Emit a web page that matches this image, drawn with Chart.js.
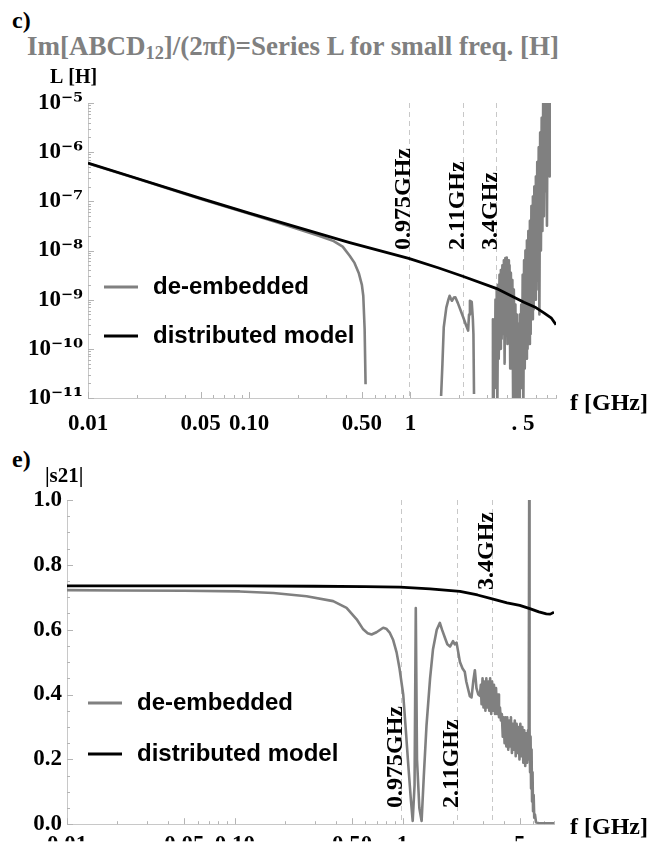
<!DOCTYPE html>
<html><head><meta charset="utf-8">
<script src="https://cdn.jsdelivr.net/npm/chart.js@4.4.1/dist/chart.umd.min.js"></script>
<style>
@font-face{font-family:'SupSerif';src:local('DejaVu Serif Bold'),local('DejaVuSerif-Bold');font-weight:bold;unicode-range:U+2070-209F,U+00B2,U+00B3,U+00B9;}
@font-face{font-family:'SupSerif';src:local('DejaVu Serif Bold'),local('DejaVuSerif-Bold');font-weight:normal;unicode-range:U+2070-209F,U+00B2,U+00B3,U+00B9;}
html,body{margin:0;padding:0;background:#fff;}
body{width:666px;height:843px;position:relative;overflow:hidden;}
canvas{position:absolute;left:0;}
#c1{top:0;}
#c2{top:440px;}
.lbl{position:absolute;font-family:'Liberation Serif','Times New Roman',serif;font-weight:bold;white-space:nowrap;line-height:1;}
.lbl sub{font-size:0.68em;vertical-align:-0.22em;line-height:0;}
</style></head><body>
<div class="lbl" style="left:12px;top:8px;font-size:24px;">c)</div>
<div class="lbl" style="left:27px;top:33px;font-size:27px;color:#808080;">Im[ABCD<sub>12</sub>]/(2πf)=Series L for small freq. [H]</div>
<div class="lbl" style="left:12px;top:447px;font-size:24px;">e)</div>
<canvas id="c1" width="666" height="440"></canvas>
<canvas id="c2" width="666" height="403"></canvas>
<script>
// ---------- data ----------
const xTickVals = [0.01, 0.05, 0.1, 0.5, 1, 5];
const xTickLabelsTop = ["0.01", "0.05", "0.10", "0.50", "1", ". 5"];
const xTickLabelsBottom = ["0.01", "0.05", "0.10", "0.50", "1", "5"];
const yTickValsL = [1e-11, 1e-10, 1e-9, 1e-8, 1e-7, 1e-6, 1e-5];
const yTickLabelsL = ["10⁻¹¹", "10⁻¹⁰", "10⁻⁹", "10⁻⁸", "10⁻⁷", "10⁻⁶", "10⁻⁵"];
const yTickValsS = [0, 0.2, 0.4, 0.6, 0.8, 1.0];
const yTickLabelsS = ["0.0", "0.2", "0.4", "0.6", "0.8", "1.0"];
const markerFreqs = [0.975, 2.11, 3.4];
const markerLabels = ["0.975GHz", "2.11GHz", "3.4GHz"];
const seriesNames = ["distributed model", "de-embedded"];

// Panel c: series inductance L [H]
const lModelFreq = [0.01, 0.02, 0.05, 0.1, 0.2, 0.42, 0.975, 1.5, 2.11, 3.4, 5.06, 6.0, 6.73, 7.5, 8.0];
const lModelVal  = [6.0e-7, 2.95e-7, 1.15e-7, 5.75e-8, 2.95e-8, 1.45e-8, 6.9e-9, 4.4e-9, 3.0e-9, 1.7e-9, 8.9e-10, 6.9e-10, 5.4e-10, 4.2e-10, 3.1e-10];

const lDeembFreq = [0.01, 0.02, 0.05, 0.1, 0.15, 0.2, 0.27, 0.334, 0.38, 0.42, 0.45, 0.478, 0.5, 0.51, 0.52, 0.527, 0.53,
  1.54, 1.55, 1.58, 1.61, 1.67, 1.72, 1.75, 1.78, 1.81, 1.86, 1.9, 1.97, 2.05, 2.12, 2.2, 2.28, 2.31, 2.34, 2.4, 2.44, 2.46, 2.48, 2.5,
  3.2, 3.22, 3.25, 3.28, 3.31, 3.34, 3.37, 3.40, 3.43, 3.46, 3.50, 3.53, 3.57, 3.60, 3.64, 3.68, 3.72, 3.76, 3.80, 3.84, 3.88, 3.92, 3.96,
  4.00, 4.04, 4.08, 4.12, 4.16, 4.20, 4.25, 4.29, 4.34, 4.38, 4.43, 4.48, 4.52, 4.57, 4.62, 4.67, 4.72, 4.77, 4.82,
  4.87, 4.92, 4.97, 5.02, 5.07, 5.12, 5.17, 5.22, 5.28, 5.33, 5.39, 5.45, 5.51, 5.57, 5.63, 5.69, 5.75, 5.81, 5.87, 5.93,
  6.00, 6.06, 6.12, 6.18, 6.25, 6.31, 6.38, 6.45, 6.52, 6.59, 6.66, 6.73, 6.80, 6.88, 6.95, 7.03, 7.10, 7.18, 7.25, 7.31];
const lDeembVal = [5.9e-7, 2.9e-7, 1.12e-7, 5.6e-8, 3.7e-8, 2.75e-8, 2.0e-8, 1.55e-8, 1.2e-8, 7.8e-9, 5.6e-9, 3.5e-9, 2.0e-9, 1.2e-9, 2.5e-10, 1.9e-11, null,
  null, 1.1e-11, 5.0e-11, 2.75e-10, 6.9e-10, 1.0e-9, 1.2e-9, 1.05e-9, 9.5e-10, 1.1e-9, 1.12e-9, 8.5e-10, 6.0e-10, 4.5e-10, 3.2e-10, 2.35e-10, 5.0e-10, 9.5e-10, 9.0e-10, 4.0e-10, 2.0e-10, 1.2e-11, null,
  null, 5e-12, 4.0e-10, 5e-12, 2.5e-10, 1.6e-11, 1.0e-9, 3.2e-11, 1.6e-9, 5e-12, 2.0e-9, 6.3e-11, 3.2e-9, 1.0e-10, 4.0e-9, 1.6e-10, 5.0e-9, 2.0e-10, 6.3e-9, 5.0e-11, 7.0e-9, 3.2e-10, 7.2e-9,
  1.25e-10, 6.3e-9, 2.5e-10, 5.0e-9, 4.0e-11, 3.5e-9, 1.6e-10, 2.5e-9, 5e-12, 1.6e-9, 6.3e-11, 8.0e-10, 5e-12, 5.0e-10, 2.5e-11, 3.2e-10, 5e-12, 5.0e-10, 5.0e-11,
  8.0e-10, 1.6e-11, 3.2e-9, 6.3e-12, 6.3e-9, 4.0e-11, 1.0e-8, 6.3e-11, 1.6e-8, 1.0e-10, 2.5e-8, 1.25e-10, 4.0e-8, 2.0e-10, 8.0e-8, 4.0e-10, 1.25e-7, 6.3e-10, 2.0e-7, 1.0e-9,
  3.2e-7, 1.6e-9, 6.3e-7, 2.5e-9, 1.25e-6, 5.0e-10, 2.5e-6, 1.0e-8, 5.0e-6, 2.5e-8, 1.0e-5, 5.0e-8, 1.6e-5, 1.6e-7, 2.5e-5, 3.2e-8, 3.2e-5, 6.3e-7, 2.5e-5, 3.2e-7];

// Panel e: |s21|
const sModelFreq = [0.01, 0.1, 0.3, 0.6, 0.965, 1.46, 2.2, 2.8, 3.47, 4.2, 5.0, 5.74, 6.5, 7.2, 7.6, 8.0];
const sModelVal  = [0.735, 0.735, 0.734, 0.733, 0.731, 0.726, 0.718, 0.707, 0.694, 0.683, 0.675, 0.665, 0.655, 0.649, 0.648, 0.654];

const sDeembFreq = [0.01, 0.02, 0.05, 0.107, 0.17, 0.268, 0.386, 0.464, 0.533, 0.583, 0.62, 0.654, 0.70, 0.767, 0.80, 0.841, 0.88, 0.922, 0.96,
  1.01, 1.05, 1.08, 1.12, 1.15, 1.18, 1.20, 1.22, 1.26, 1.30, 1.34, 1.39, 1.46, 1.52, 1.60, 1.67, 1.72, 1.79, 1.85, 1.92, 2.00, 2.05, 2.10,
  2.15, 2.20, 2.28, 2.35, 2.40, 2.46, 2.52, 2.58, 2.64, 2.70, 2.76, 2.83, 2.89,
  2.93, 2.96, 3.00, 3.04, 3.08, 3.12, 3.16, 3.20, 3.25, 3.29, 3.33, 3.38, 3.42, 3.47, 3.51, 3.56, 3.61, 3.66, 3.71, 3.76, 3.81, 3.86, 3.91,
  3.96, 4.01, 4.06, 4.11, 4.16, 4.21, 4.27, 4.32, 4.38, 4.43, 4.49, 4.55, 4.61, 4.67, 4.73, 4.79, 4.85, 4.91, 4.98, 5.04, 5.11, 5.18, 5.25,
  5.32, 5.39, 5.46, 5.53, 5.60, 5.65, 5.69, 5.72, 5.76, 5.80, 5.84, 5.88, 5.92, 5.96, 6.00, 6.05, 6.10, 6.16, 6.25, 6.5, 7.0, 7.5, 8.0];
const sDeembVal = [0.722, 0.721, 0.720, 0.718, 0.713, 0.703, 0.688, 0.667, 0.632, 0.601, 0.589, 0.585, 0.592, 0.606, 0.603, 0.590, 0.568, 0.530, 0.480,
  0.400, 0.28, 0.19, 0.08, 0.01, 0.12, 0.667, 0.20, 0.05, 0.01, 0.15, 0.304, 0.45, 0.54, 0.60, 0.621, 0.60, 0.575, 0.555, 0.548, 0.565, 0.555, 0.56,
  0.53, 0.50, 0.48, 0.47, 0.44, 0.417, 0.395, 0.391, 0.44, 0.475, 0.42, 0.40, 0.396,
  0.43, 0.37, 0.45, 0.36, 0.44, 0.35, 0.45, 0.36, 0.44, 0.35, 0.45, 0.34, 0.44, 0.35, 0.43, 0.34, 0.42, 0.34, 0.40, 0.33, 0.36, 0.32, 0.34,
  0.27, 0.33, 0.25, 0.33, 0.24, 0.33, 0.23, 0.32, 0.24, 0.33, 0.22, 0.31, 0.23, 0.32, 0.21, 0.31, 0.22, 0.30, 0.20, 0.31, 0.21, 0.30, 0.19,
  0.29, 0.18, 0.28, 0.19, 0.29, 0.20, 1.0, 0.30, 0.16, 0.27, 0.11, 0.23, 0.07, 0.16, 0.04, 0.09, 0.02, 0.03, 0.006, 0.003, 0.003, 0.003, 0.003];

// ---------- helpers ----------
function pts(xs, ys) { return xs.map((x, i) => ({ x: x, y: ys[i] })); }
const SERIF = "'SupSerif','Liberation Serif','Times New Roman',serif";
const SANS = "'Liberation Sans',Arial,sans-serif";
const tickFont = { family: SERIF, size: 23, weight: 'bold' };
const GRAY = '#808080';

const annot = {
  id: 'annot',
  beforeDatasetsDraw(chart, args, o) {
    const { ctx, chartArea: a, scales: { x, y } } = chart;
    ctx.save();
    ctx.strokeStyle = '#c8c8c8'; ctx.lineWidth = 1; ctx.setLineDash([5, 4]);
    markerFreqs.forEach(f => {
      const px = Math.round(x.getPixelForValue(f)) + 0.5;
      ctx.beginPath(); ctx.moveTo(px, a.top); ctx.lineTo(px, a.bottom); ctx.stroke();
    });
    ctx.setLineDash([]);
    ctx.strokeStyle = '#b4b4b4'; ctx.lineWidth = 1;
    for (let e = -2; e <= 0; e++) {
      for (let k = 1; k <= 9; k++) {
        const v = k * Math.pow(10, e);
        if (v < x.min * 0.999 || v > x.max * 1.001) continue;
        const px = Math.round(x.getPixelForValue(v)) + 0.5;
        const len = (k === 1 || k === 5) ? 6 : 3;
        ctx.beginPath(); ctx.moveTo(px, a.bottom); ctx.lineTo(px, a.bottom - len); ctx.stroke();
      }
    }
    if (y.type === 'logarithmic') {
      for (let e = -11; e <= -5; e++) {
        for (let k = 1; k <= 9; k++) {
          const v = k * Math.pow(10, e);
          if (v > y.max * 1.001) continue;
          const py = Math.round(y.getPixelForValue(v)) + 0.5;
          const len = k === 1 ? 6 : 3;
          ctx.beginPath(); ctx.moveTo(a.left, py); ctx.lineTo(a.left + len, py); ctx.stroke();
        }
      }
    } else {
      for (let i = 0; i <= 20; i++) {
        const v = i * 0.05;
        const py = Math.round(y.getPixelForValue(v)) + 0.5;
        const len = (i % 4 === 0) ? 6 : 3;
        ctx.beginPath(); ctx.moveTo(a.left, py); ctx.lineTo(a.left + len, py); ctx.stroke();
      }
    }
    ctx.restore();
  },
  afterDatasetsDraw(chart, args, o) {
    const { ctx, scales: { x } } = chart;
    ctx.save();
    ctx.fillStyle = '#000';
    ctx.font = 'bold 24px ' + SERIF;
    markerFreqs.forEach((f, i) => {
      const px = x.getPixelForValue(f) + 1;
      ctx.save(); ctx.translate(px, o.markerY[i]); ctx.rotate(-Math.PI / 2);
      ctx.textAlign = 'left'; ctx.textBaseline = 'alphabetic';
      ctx.fillText(markerLabels[i], 0, 0); ctx.restore();
    });
    ctx.font = 'bold ' + o.yTitle.size + 'px ' + SERIF;
    ctx.textAlign = 'left'; ctx.textBaseline = 'alphabetic';
    ctx.fillText(o.yTitle.text, o.yTitle.x, o.yTitle.y);
    ctx.font = 'bold 24px ' + SERIF;
    ctx.fillText(o.xTitle.text, o.xTitle.x, o.xTitle.y);
    ctx.font = 'bold 24px ' + SANS;
    o.legend.order.forEach((di, r) => {
      const ds = chart.data.datasets[di];
      const ly = o.legend.y[r];
      ctx.strokeStyle = ds.borderColor; ctx.lineWidth = 3;
      ctx.beginPath(); ctx.moveTo(o.legend.x, ly); ctx.lineTo(o.legend.x + 34, ly); ctx.stroke();
      ctx.fillStyle = '#000';
      ctx.fillText(ds.label, o.legend.textX, ly + 7);
    });
    ctx.restore();
  }
};

function makeChart(id, cfg) {
  return new Chart(document.getElementById(id), {
    type: 'line',
    data: { datasets: [
      { label: seriesNames[0], data: cfg.model, borderColor: '#000', borderWidth: 2.8 },
      { label: seriesNames[1], data: cfg.deemb, borderColor: GRAY, borderWidth: 2.6 }
    ] },
    options: {
      responsive: false, animation: false, devicePixelRatio: 1,
      spanGaps: false,
      layout: { padding: cfg.padding },
      elements: { point: { radius: 0 }, line: { tension: 0, borderJoinStyle: 'round', fill: false } },
      plugins: { legend: { display: false }, tooltip: { enabled: false }, annot: cfg.annot },
      scales: {
        x: {
          type: 'logarithmic', min: 0.01, max: 8,
          afterBuildTicks: s => { s.ticks = xTickVals.map(v => ({ value: v })); },
          afterFit: s => { s.height = cfg.xHeight; },
          grid: { display: false, drawTicks: false },
          border: { display: true, color: '#c8c8c8', width: 1 },
          ticks: { autoSkip: false, maxRotation: 0, minRotation: 0, padding: cfg.xPad, color: '#000', font: tickFont,
                   callback: (v, i) => cfg.xLabels[i] }
        },
        y: Object.assign({
          afterFit: s => { s.width = cfg.yWidth; },
          grid: { display: false, drawTicks: false },
          border: { display: true, color: '#c8c8c8', width: 1 },
          ticks: { autoSkip: false, padding: 5, color: '#000', font: tickFont, callback: (v, i) => cfg.yLabels[i] }
        }, cfg.y)
      }
    },
    plugins: [annot]
  });
}

function build() {
  makeChart('c1', {
    model: pts(lModelFreq, lModelVal), deemb: pts(lDeembFreq, lDeembVal),
    padding: { top: 103, right: 110, bottom: 0, left: 0 },
    xHeight: 42, yWidth: 88, xPad: 12, xLabels: xTickLabelsTop, yLabels: yTickLabelsL,
    y: { type: 'logarithmic', min: 1e-11, max: 1e-5, afterBuildTicks: s => { s.ticks = yTickValsL.map(v => ({ value: v })); } },
    annot: { markerY: [250, 250, 250], yTitle: { text: 'L [H]', x: 50, y: 83, size: 20 }, xTitle: { text: 'f [GHz]', x: 570, y: 410 },
             legend: { x: 104, y: [287, 336], textX: 153, order: [1, 0] } }
  });
  makeChart('c2', {
    model: pts(sModelFreq, sModelVal), deemb: pts(sDeembFreq, sDeembVal),
    padding: { top: 60, right: 112, bottom: 0, left: 0 },
    xHeight: 17, yWidth: 67, xPad: 7, xLabels: xTickLabelsBottom, yLabels: yTickLabelsS,
    y: { type: 'linear', min: 0, max: 1, afterBuildTicks: s => { s.ticks = yTickValsS.map(v => ({ value: v })); } },
    annot: { markerY: [368, 368, 150], yTitle: { text: '|s21|', x: 45, y: 42, size: 21 }, xTitle: { text: 'f [GHz]', x: 570, y: 394 },
             legend: { x: 88, y: [263, 314], textX: 137, order: [1, 0] } }
  });
}

let built = false;
function go() { if (!built) { built = true; build(); } }
if (document.fonts && document.fonts.load) {
  Promise.all([document.fonts.load('bold 23px SupSerif', '⁰¹⁻⁵'), document.fonts.load('bold 23px "Liberation Serif"', '0')])
    .then(go, go);
  setTimeout(go, 400);
} else { go(); }
</script>
</body></html>
